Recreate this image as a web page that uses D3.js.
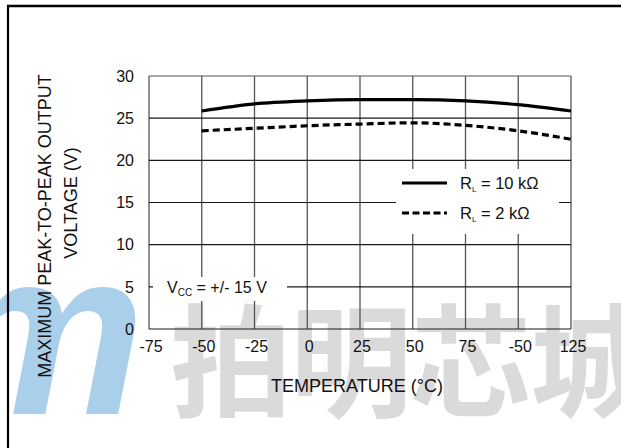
<!DOCTYPE html>
<html>
<head>
<meta charset="utf-8">
<script src="https://cdn.jsdelivr.net/npm/d3@7"></script>
<style>
  html, body { margin: 0; padding: 0; background: #fff; }
  svg { display: block; }
  text { font-family: "Liberation Sans", Arial, Helvetica, sans-serif; fill: #111; }
</style>
</head>
<body>
<svg id="chart" width="621" height="448"></svg>
<script>
// Temperature points (°C) at which output swing is plotted
const temps = [-50, -25, 0, 25, 50, 75, 100, 125];
// Maximum peak-to-peak output voltage (V) for each load
const swing10k = [25.85, 26.7, 27.05, 27.2, 27.2, 27.05, 26.6, 25.85];
const swing2k  = [23.5, 23.8, 24.1, 24.3, 24.45, 24.15, 23.5, 22.5];
// Axis ticks and their printed labels
const xTicks = [-75, -50, -25, 0, 25, 50, 75, 100, 125];
const xTickLabels = ["-75", "-50", "-25", "0", "25", "50", "75", "-50", "125"];
const yTicks = [0, 5, 10, 15, 20, 25, 30];
const yTickLabels = ["0", "5", "10", "15", "20", "25", "30"];

const svg = d3.select("#chart");
const W = 621, H = 448;

const x = d3.scaleLinear().domain([-75, 125]).range([149, 571]);
const y = d3.scaleLinear().domain([0, 30]).range([329, 76]);

// background watermark
const wm = svg.append("g");
wm.append("text")
  .attr("x", 145).attr("y", 414)
  .attr("text-anchor", "end")
  .style("font-family", "'Liberation Sans', Arial, sans-serif")
  .style("font-weight", "bold")
  .style("font-style", "italic")
  .style("font-size", "235px")
  .style("fill", "#a9cfea")
  .text("m");
const cjk = ["拍", "明", "芯", "城"];
wm.selectAll("text.cjk").data(cjk).join("text")
  .attr("class", "cjk")
  .attr("x", (d, i) => 170 + i * 120)
  .attr("y", 407)
  .style("font-family", "'Noto Sans CJK SC', sans-serif")
  .style("font-weight", "bold")
  .style("font-size", "122px")
  .style("fill", "#dadada")
  .text(d => d);

// frame lines of the page
svg.append("line").attr("x1", 7).attr("x2", W).attr("y1", 6).attr("y2", 6)
  .attr("stroke", "#000").attr("stroke-width", 2.5);
svg.append("line").attr("x1", 8).attr("x2", 8).attr("y1", 5).attr("y2", H)
  .attr("stroke", "#000").attr("stroke-width", 2.2);

// grid
const grid = svg.append("g");
grid.selectAll("line.v").data(xTicks).join("line")
  .attr("class", "v")
  .attr("x1", d => x(d)).attr("x2", d => x(d))
  .attr("y1", y(30)).attr("y2", y(0))
  .attr("stroke", "#555").attr("stroke-width", 1.3);
grid.selectAll("line.h").data(yTicks).join("line")
  .attr("class", "h")
  .attr("x1", x(-75)).attr("x2", x(125))
  .attr("y1", d => y(d)).attr("y2", d => y(d))
  .attr("stroke", d => (d === 30 ? "#555" : "#1a1a1a")).attr("stroke-width", 1.2);

// tick labels
svg.append("g").selectAll("text").data(yTicks).join("text")
  .attr("x", 134).attr("y", d => y(d)).attr("dy", "0.36em")
  .attr("text-anchor", "end")
  .style("font-size", "16px")
  .text((d, i) => yTickLabels[i]);
svg.append("g").selectAll("text").data(xTicks).join("text")
  .attr("x", d => x(d) + 2).attr("y", 352)
  .attr("text-anchor", "middle")
  .style("font-size", "16px")
  .text((d, i) => xTickLabels[i]);

// axis titles
svg.append("text")
  .attr("x", 357).attr("y", 392)
  .attr("text-anchor", "middle")
  .style("font-size", "18px")
  .text("TEMPERATURE (°C)");
svg.append("text")
  .attr("transform", "translate(51,226) rotate(-90)")
  .attr("text-anchor", "middle")
  .style("font-size", "18px")
  .text("MAXIMUM PEAK-TO-PEAK OUTPUT");
svg.append("text")
  .attr("transform", "translate(77,203) rotate(-90)")
  .attr("text-anchor", "middle")
  .style("font-size", "18px")
  .text("VOLTAGE (V)");

// curves
const line = d3.line()
  .x((d, i) => x(temps[i]))
  .y(d => y(d))
  .curve(d3.curveMonotoneX);
svg.append("path").datum(swing10k)
  .attr("d", line)
  .attr("fill", "none").attr("stroke", "#000").attr("stroke-width", 3.2);
svg.append("path").datum(swing2k)
  .attr("d", line)
  .attr("fill", "none").attr("stroke", "#000").attr("stroke-width", 3.2)
  .attr("stroke-dasharray", "7,4");

// legend
const lg = svg.append("g");
lg.append("rect").attr("x", 396).attr("y", 169).attr("width", 163).attr("height", 65)
  .attr("fill", "#fff");
const legendItems = [
  { dash: null, num: "10", yy: 183 },
  { dash: "7,3.5", num: "2", yy: 213 }
];
legendItems.forEach(it => {
  lg.append("line").attr("x1", 402).attr("x2", 447).attr("y1", it.yy).attr("y2", it.yy)
    .attr("stroke", "#000").attr("stroke-width", 3.2)
    .attr("stroke-dasharray", it.dash);
  const t = lg.append("text").attr("x", 460).attr("y", it.yy + 6).style("font-size", "16.5px");
  t.append("tspan").text("R");
  t.append("tspan").attr("dy", 3).style("font-size", "8px").text("L");
  t.append("tspan").attr("dy", -3).text(" = " + it.num + " kΩ");
});

// supply note
const note = svg.append("g");
note.append("rect").attr("x", 153).attr("y", 277).attr("width", 134).attr("height", 24)
  .attr("fill", "#fff");
const nt = note.append("text").attr("x", 167).attr("y", y(5) + 6).style("font-size", "16px");
nt.append("tspan").text("V");
nt.append("tspan").attr("dy", 3).style("font-size", "10px").text("CC");
nt.append("tspan").attr("dy", -3).text(" = +/- 15 V");
</script>
</body>
</html>
